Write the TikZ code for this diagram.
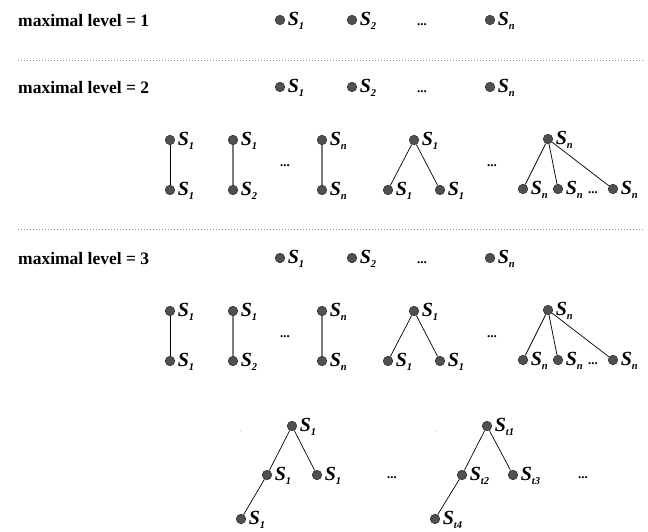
\documentclass[tikz,border=0pt]{standalone}
\usepackage{fontspec}
\setmainfont{Liberation Serif}
\definecolor{dotfill}{HTML}{505050}
\definecolor{dotdraw}{HTML}{303030}
\definecolor{sep}{HTML}{8C8C8C}
\definecolor{grayline}{HTML}{7A7A7A}
\newcommand{\Sx}[1]{\textbf{\textit{S}}{\fontsize{10.5}{11}\selectfont\raisebox{-3.5pt}{\textbf{\textit{#1}}}}}
\begin{document}
\begin{tikzpicture}[x=1pt,y=-1pt,
  dot/.style={circle,fill=dotfill,draw=dotdraw,line width=0.6pt,inner sep=0pt,minimum size=9.5pt},
  slab/.style={font=\fontsize{20}{22}\selectfont,inner sep=0pt,anchor=west,xshift=2.5pt,yshift=-1pt},
  lvl/.style={font=\fontsize{17.5}{20}\selectfont\bfseries,inner sep=0pt,anchor=west},
  ell/.style={font=\fontsize{13}{14}\selectfont\bfseries,inner sep=0pt},
  sepline/.style={draw=sep,line width=0.8pt,dash pattern=on 1pt off 2pt},
  edge/.style={draw=black,line width=0.7pt},
  gedge/.style={draw=grayline,line width=1.2pt},
  stray/.style={circle,fill=gray!60,inner sep=0pt,minimum size=1.2pt}]
\useasboundingbox (0,0) rectangle (648,532);

% ---------- level 1 ----------
\node[lvl] (t1) at (18,21) {maximal level = 1};
\node[dot,label={[slab]0:\Sx{1}}] (a1) at (280,20) {};
\node[dot,label={[slab]0:\Sx{2}}] (a2) at (352,20) {};
\node[ell] (ae) at (422,25) {...};
\node[dot,label={[slab]0:\Sx{n}}] (an) at (490,20) {};

\coordinate (l1a) at (18,60);
\coordinate (l1b) at (644,60);
\draw[sepline] (l1a) -- (l1b);

% ---------- level 2 ----------
\node[lvl] (t2) at (18,88) {maximal level = 2};
\node[dot,label={[slab]0:\Sx{1}}] (b1) at (280,87) {};
\node[dot,label={[slab]0:\Sx{2}}] (b2) at (352,87) {};
\node[ell] (be) at (422,92) {...};
\node[dot,label={[slab]0:\Sx{n}}] (bn) at (490,87) {};

\node[dot,label={[slab]0:\Sx{1}}] (c1t) at (170,140) {};
\node[dot,label={[slab]0:\Sx{1}}] (c1b) at (170,190) {};
\node[dot,label={[slab]0:\Sx{1}}] (c2t) at (233,140) {};
\node[dot,label={[slab]0:\Sx{2}}] (c2b) at (233,190) {};
\node[ell] (ce1) at (285,166) {...};
\node[dot,label={[slab]0:\Sx{n}}] (c3t) at (322,140) {};
\node[dot,label={[slab]0:\Sx{n}}] (c3b) at (322,190) {};
\node[dot,label={[slab]0:\Sx{1}}] (c4t) at (414,140) {};
\node[dot,label={[slab]0:\Sx{1}}] (c4l) at (388,190) {};
\node[dot,label={[slab]0:\Sx{1}}] (c4r) at (440,190) {};
\node[ell] (ce2) at (492,166) {...};
\node[dot,label={[slab]0:\Sx{n}}] (c5t) at (548,139) {};
\node[dot,label={[slab]0:\Sx{n}}] (c5a) at (523,189) {};
\node[dot,label={[slab]0:\Sx{n}}] (c5b) at (558,189) {};
\node[ell] (ce3) at (593,193) {...};
\node[dot,label={[slab]0:\Sx{n}}] (c5c) at (613,189) {};

\draw[edge] (c1t) -- (c1b);
\draw[gedge] (c2t) -- (c2b);
\draw[gedge] (c3t) -- (c3b);
\draw[edge] (c4t) -- (c4l);
\draw[edge] (c4t) -- (c4r);
\draw[edge] (c5t) -- (c5a);
\draw[edge] (c5t) -- (c5b);
\draw[edge] (c5t) -- (c5c);

\coordinate (l2a) at (18,229);
\coordinate (l2b) at (644,229);
\draw[sepline] (l2a) -- (l2b);

% ---------- level 3 ----------
\node[lvl] (t3) at (18,259) {maximal level = 3};
\node[dot,label={[slab]0:\Sx{1}}] (d1) at (280,258) {};
\node[dot,label={[slab]0:\Sx{2}}] (d2) at (352,258) {};
\node[ell] (de) at (422,263) {...};
\node[dot,label={[slab]0:\Sx{n}}] (dn) at (490,258) {};

\node[dot,label={[slab]0:\Sx{1}}] (e1t) at (170,311) {};
\node[dot,label={[slab]0:\Sx{1}}] (e1b) at (170,361) {};
\node[dot,label={[slab]0:\Sx{1}}] (e2t) at (233,311) {};
\node[dot,label={[slab]0:\Sx{2}}] (e2b) at (233,361) {};
\node[ell] (ee1) at (285,337) {...};
\node[dot,label={[slab]0:\Sx{n}}] (e3t) at (322,311) {};
\node[dot,label={[slab]0:\Sx{n}}] (e3b) at (322,361) {};
\node[dot,label={[slab]0:\Sx{1}}] (e4t) at (414,311) {};
\node[dot,label={[slab]0:\Sx{1}}] (e4l) at (388,361) {};
\node[dot,label={[slab]0:\Sx{1}}] (e4r) at (440,361) {};
\node[ell] (ee2) at (492,337) {...};
\node[dot,label={[slab]0:\Sx{n}}] (e5t) at (548,310) {};
\node[dot,label={[slab]0:\Sx{n}}] (e5a) at (523,360) {};
\node[dot,label={[slab]0:\Sx{n}}] (e5b) at (558,360) {};
\node[ell] (ee3) at (593,364) {...};
\node[dot,label={[slab]0:\Sx{n}}] (e5c) at (613,360) {};

\draw[edge] (e1t) -- (e1b);
\draw[gedge] (e2t) -- (e2b);
\draw[gedge] (e3t) -- (e3b);
\draw[edge] (e4t) -- (e4l);
\draw[edge] (e4t) -- (e4r);
\draw[edge] (e5t) -- (e5a);
\draw[edge] (e5t) -- (e5b);
\draw[edge] (e5t) -- (e5c);

% depth-3 trees
\node[stray] (s1) at (241,431) {};
\node[dot,label={[slab]0:\Sx{1}}] (f1t) at (292,426) {};
\node[dot,label={[slab]0:\Sx{1}}] (f1l) at (267,475) {};
\node[dot,label={[slab]0:\Sx{1}}] (f1r) at (317,475) {};
\node[dot,label={[slab]0:\Sx{1}}] (f1b) at (241,519) {};
\node[ell] (fe1) at (392,478) {...};

\node[stray] (s2) at (436,431) {};
\node[dot,label={[slab]0:\Sx{t1}}] (f2t) at (487,426) {};
\node[dot,label={[slab]0:\Sx{t2}}] (f2l) at (462,475) {};
\node[dot,label={[slab]0:\Sx{t3}}] (f2r) at (513,475) {};
\node[dot,label={[slab]0:\Sx{t4}}] (f2b) at (435,519) {};
\node[ell] (fe2) at (583,478) {...};

\draw[edge] (f1t) -- (f1l);
\draw[edge] (f1t) -- (f1r);
\draw[edge] (f1l) -- (f1b);
\draw[edge] (f2t) -- (f2l);
\draw[edge] (f2t) -- (f2r);
\draw[edge] (f2l) -- (f2b);
\end{tikzpicture}
\end{document}
